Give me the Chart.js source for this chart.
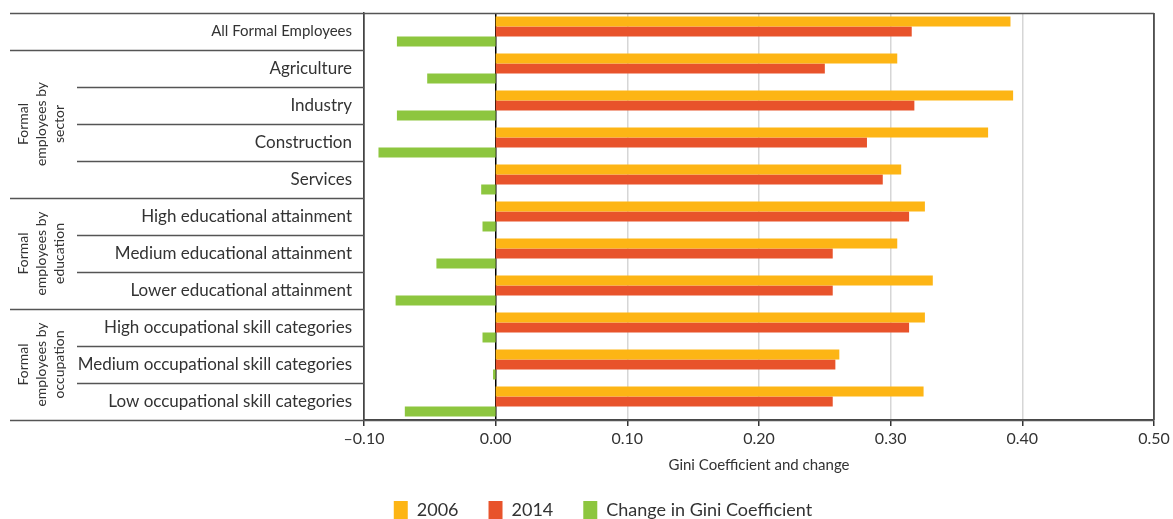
<!DOCTYPE html>
<html>
<head>
<meta charset="utf-8">
<script src="https://cdn.jsdelivr.net/npm/chart.js@4.4.1/dist/chart.umd.min.js"></script>
<style>
  html, body { margin: 0; padding: 0; background: #fff; overflow: hidden; }
  #wrap { position: relative; width: 1173px; height: 529px; }
</style>
</head>
<body>
<div id="wrap"><canvas id="gini-chart"></canvas></div>
<script>
// categories, top to bottom
let categories = [
  'All Formal Employees',
  'Agriculture',
  'Industry',
  'Construction',
  'Services',
  'High educational attainment',
  'Medium educational attainment',
  'Lower educational attainment',
  'High occupational skill categories',
  'Medium occupational skill categories',
  'Low occupational skill categories'
];

let gini2006 = [0.391, 0.305, 0.393, 0.374, 0.308, 0.326, 0.305, 0.332, 0.326, 0.261, 0.325];
let gini2014 = [0.316, 0.250, 0.318, 0.282, 0.294, 0.314, 0.256, 0.256, 0.314, 0.258, 0.256];
let giniChange = [-0.075, -0.052, -0.075, -0.089, -0.011, -0.010, -0.045, -0.076, -0.010, -0.002, -0.069];

// row groups in the left table (first/last category index)
let groupNames = [['Formal', 'employees by', 'sector'], ['Formal', 'employees by', 'education'], ['Formal', 'employees by', 'occupation']];
let groupFirst = [1, 5, 8];
let groupLast = [4, 7, 10];

let seriesNames = ['2006', '2014', 'Change in Gini Coefficient'];
let seriesColors = ['#FDB515', '#E8532B', '#8DC63F'];

let fontName = 'Lato, "Open Sans", sans-serif';
let textColor = '#333333';

// draws the table lines, frame and rotated group labels
let tablePlugin = {
  id: 'tableLines',
  afterDraw(chart) {
    let ctx = chart.ctx;
    let area = chart.chartArea;
    let rowH = (area.bottom - area.top) / categories.length;
    let starts = [0, 1].concat(groupFirst, groupLast.map(g => g + 1));

    ctx.save();
    ctx.strokeStyle = '#555555';
    ctx.lineWidth = 1.5;
    for (let i = 0; i <= categories.length; i++) {
      let y = Math.round(area.top + i * rowH) + 0.5;
      let x0 = starts.includes(i) || i === categories.length ? 10 : 77;
      let x1 = (i === 0 || i === categories.length) ? area.right : area.left;
      ctx.beginPath();
      ctx.moveTo(x0, y);
      ctx.lineTo(x1, y);
      ctx.stroke();
    }
    // right frame
    ctx.beginPath();
    ctx.moveTo(area.right, area.top);
    ctx.lineTo(area.right, area.bottom);
    ctx.stroke();

    // group labels
    ctx.fillStyle = textColor;
    ctx.font = '14px ' + fontName;
    ctx.textAlign = 'center';
    ctx.textBaseline = 'middle';
    groupNames.forEach(function(lines, g) {
      let yMid = area.top + ((groupFirst[g] + groupLast[g] + 1) / 2) * rowH;
      ctx.save();
      ctx.translate(41, yMid);
      ctx.rotate(-Math.PI / 2);
      lines.forEach(function(line, k) {
        ctx.fillText(line, 0, (k - 1) * 18);
      });
      ctx.restore();
    });
    ctx.restore();
  }
};

let contex = document.querySelector('#gini-chart').getContext('2d');

let giniChart = new Chart(contex, {
  type: 'bar',
  data: {
    labels: categories,
    datasets: [
      { label: seriesNames[0], data: gini2006, backgroundColor: seriesColors[0] },
      { label: seriesNames[1], data: gini2014, backgroundColor: seriesColors[1] },
      { label: seriesNames[2], data: giniChange, backgroundColor: seriesColors[2] }
    ]
  },
  options: {
    indexAxis: 'y',
    responsive: true,
    maintainAspectRatio: false,
    animation: false,
    categoryPercentage: 0.81,
    barPercentage: 1.0,
    layout: { padding: { left: 52, top: 13, right: 19, bottom: 0 } },
    plugins: {
      tooltip: { enabled: false },
      legend: {
        position: 'bottom',
        labels: {
          boxWidth: 14,
          boxHeight: 18,
          padding: 30,
          color: textColor,
          font: { family: fontName, size: 18 }
        }
      }
    },
    scales: {
      x: {
        min: -0.1,
        max: 0.5,
        afterFit: function(scale) { scale.height = 51; },
        ticks: {
          stepSize: 0.1,
          color: textColor,
          padding: 3,
          font: { family: fontName, size: 16 },
          callback: function(v) {
            let s = Math.abs(v).toFixed(2);
            return v < -1e-9 ? '\u2013' + s : s;
          }
        },
        grid: {
          color: function(c) {
            let v = c.tick ? c.tick.value : 1;
            if (Math.abs(v) < 1e-9) return '#000000';
            if (Math.abs(v + 0.1) < 1e-9 || Math.abs(v - 0.5) < 1e-9) return '#444444';
            return '#d6d6d6';
          },
          lineWidth: 1.5,
          tickColor: '#333333',
          tickLength: 6
        },
        border: { color: '#444444', width: 1.5 },
        title: {
          display: true,
          text: 'Gini Coefficient and change',
          color: textColor,
          font: { family: fontName, size: 15 },
          padding: { top: 0, bottom: -3 }
        }
      },
      y: {
        afterFit: function(scale) {
          scale.width = 312;
          scale.paddingTop = 0;
          scale.paddingBottom = 0;
        },
        grid: { display: false, drawTicks: false },
        border: { color: '#444444', width: 1.5 },
        ticks: {
          padding: 12,
          color: textColor,
          font: function(c) {
            return { family: fontName, size: c.index === 0 ? 15 : 17 };
          }
        }
      }
    }
  },
  plugins: [tablePlugin]
});
</script>
</body>
</html>
